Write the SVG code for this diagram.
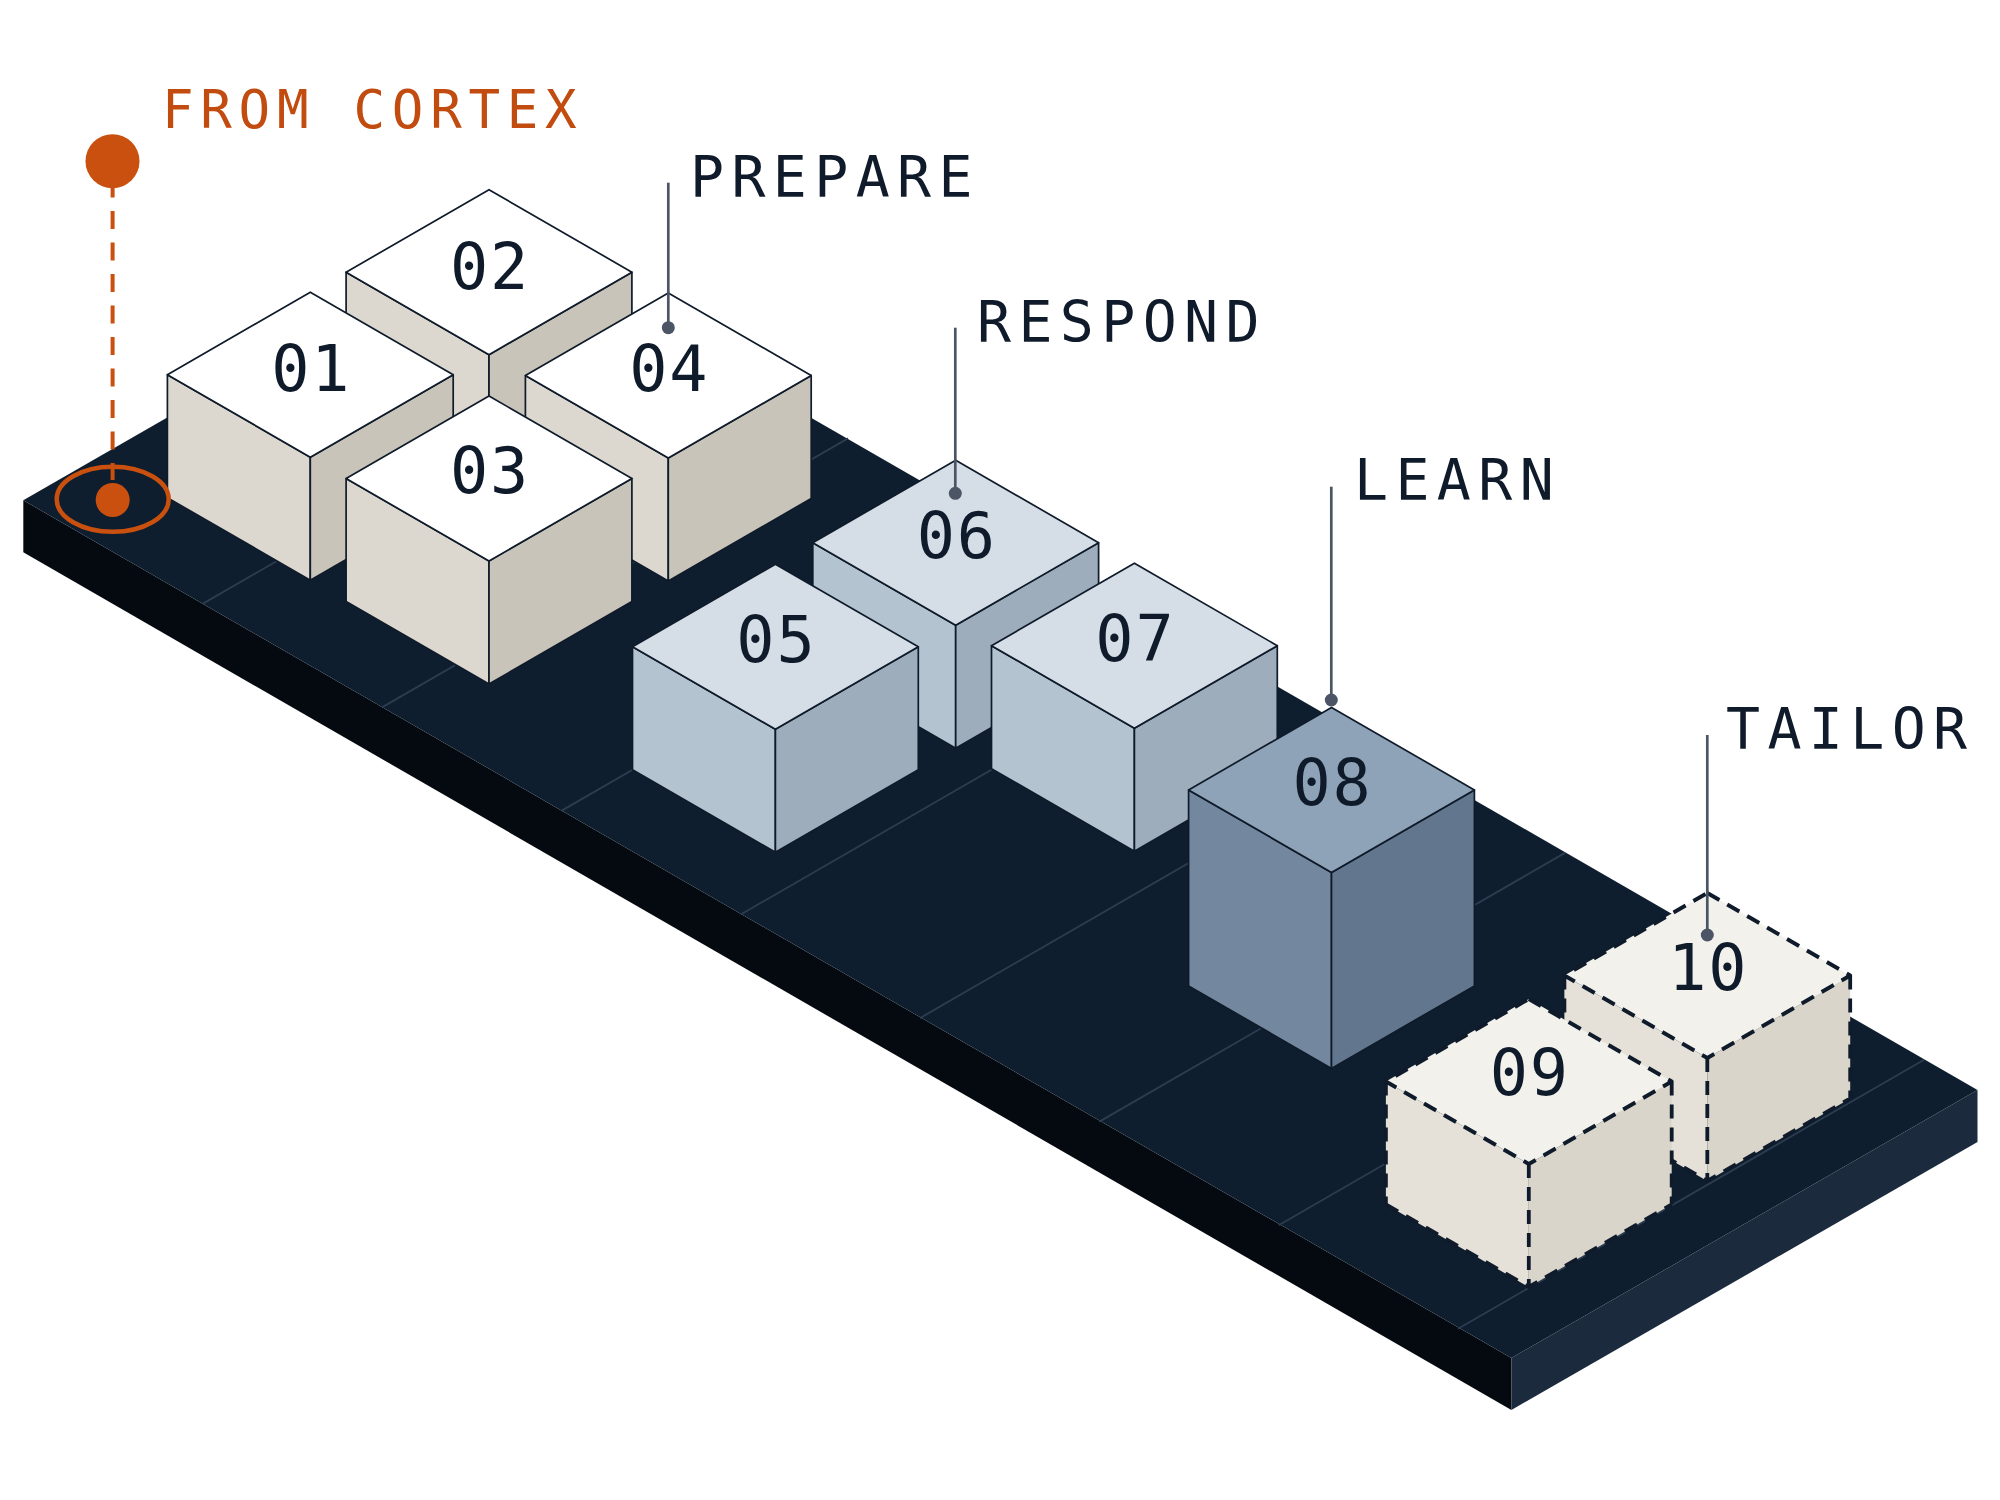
<svg xmlns="http://www.w3.org/2000/svg" width="2000" height="1500" viewBox="0 0 2000 1500">
  <style>
    .bg { fill: #ffffff; }
    .slab-top { fill: #0f1e2e; }
    .slab-front { fill: #050a10; }
    .slab-end { fill: #1b2a3c; }
    .grid { stroke: #2c3d52; stroke-width: 1.8; fill: none; }
    .edge { stroke: #0f1b2a; stroke-width: 1.7; stroke-linejoin: round; }
    .g1 .top { fill: #ffffff; } .g1 .left { fill: #dcd8cf; } .g1 .right { fill: #c8c4b9; }
    .g2 .top { fill: #d5dee7; } .g2 .left { fill: #b4c3d0; } .g2 .right { fill: #9dadbc; }
    .g3 .top { fill: #8ea3b7; } .g3 .left { fill: #73889f; } .g3 .right { fill: #62778e; }
    .g4 .top { fill: #f2f1ec; } .g4 .left { fill: #e5e1d8; } .g4 .right { fill: #d9d5ca; }
    .dash { fill: none; stroke: #0f1b2a; stroke-width: 3.8; stroke-dasharray: 14 9; stroke-linejoin: round; }
    .num { font-family: "DejaVu Sans Mono", "Liberation Mono", monospace; font-size: 63.5px; fill: #0f1b2a; text-anchor: middle; letter-spacing: 1.8px; }
    .callout { font-family: "DejaVu Sans Mono", "Liberation Mono", monospace; font-size: 56.5px; fill: #0f1b2a; letter-spacing: 7.4px; }
    .source { font-family: "DejaVu Sans Mono", "Liberation Mono", monospace; font-size: 52.5px; fill: #c24b0f; letter-spacing: 6.7px; }
    .lead { stroke: #4b5565; stroke-width: 2.7; fill: none; }
    .lead-dot { fill: #4b5565; }
    .orange { fill: #c9500e; }
    .orange-line { stroke: #c9500e; stroke-width: 4; fill: none; }
  </style>
  <rect class="bg" x="0" y="0" width="2000" height="1500"/>

  <g id="platform">
    <polygon class="slab-front" points="23.3,500.3 1511.4,1358 1511.4,1410 23.3,552.3"/>
    <polygon class="slab-end" points="1511.4,1358 1977.5,1090 1977.5,1142 1511.4,1410"/>
    <polygon class="slab-top" points="23.3,500.3 489.4,232.3 1977.5,1090 1511.4,1358"/>
    <g id="grid">
      <line class="grid" x1="202.6" y1="603.9" x2="668.6" y2="334.9"/>
      <line class="grid" x1="382.0" y1="707.4" x2="848.0" y2="438.4"/>
      <line class="grid" x1="561.3" y1="810.9" x2="1027.3" y2="541.9"/>
      <line class="grid" x1="740.7" y1="914.5" x2="1206.7" y2="645.5"/>
      <line class="grid" x1="920.0" y1="1018.1" x2="1386.0" y2="749.1"/>
      <line class="grid" x1="1099.4" y1="1121.6" x2="1565.4" y2="852.6"/>
      <line class="grid" x1="1278.7" y1="1225.2" x2="1744.7" y2="956.2"/>
      <line class="grid" x1="1458.1" y1="1328.7" x2="1924.1" y2="1059.7"/>
    </g>
  </g>

  <g id="node-02" class="g1" transform="translate(489,189.7)">
    <polygon class="left edge" points="-142.9,82.5 0,165 0,288 -142.9,205.5"/>
    <polygon class="right edge" points="0,165 142.9,82.5 142.9,205.5 0,288"/>
    <polygon class="top edge" points="0,0 142.9,82.5 0,165 -142.9,82.5"/>
    <text class="num" x="1" y="99">02</text>
  </g>
  <g id="node-01" class="g1" transform="translate(310.3,292.2)">
    <polygon class="left edge" points="-142.9,82.5 0,165 0,288 -142.9,205.5"/>
    <polygon class="right edge" points="0,165 142.9,82.5 142.9,205.5 0,288"/>
    <polygon class="top edge" points="0,0 142.9,82.5 0,165 -142.9,82.5"/>
    <text class="num" x="1" y="99">01</text>
  </g>
  <g id="node-04" class="g1" transform="translate(668.3,293)">
    <polygon class="left edge" points="-142.9,82.5 0,165 0,288 -142.9,205.5"/>
    <polygon class="right edge" points="0,165 142.9,82.5 142.9,205.5 0,288"/>
    <polygon class="top edge" points="0,0 142.9,82.5 0,165 -142.9,82.5"/>
    <text class="num" x="1" y="98">04</text>
  </g>
  <g id="node-03" class="g1" transform="translate(489,396)">
    <polygon class="left edge" points="-142.9,82.5 0,165 0,288 -142.9,205.5"/>
    <polygon class="right edge" points="0,165 142.9,82.5 142.9,205.5 0,288"/>
    <polygon class="top edge" points="0,0 142.9,82.5 0,165 -142.9,82.5"/>
    <text class="num" x="1" y="97">03</text>
  </g>

  <g id="node-06" class="g2" transform="translate(955.7,460.2)">
    <polygon class="left edge" points="-142.9,82.5 0,165 0,288 -142.9,205.5"/>
    <polygon class="right edge" points="0,165 142.9,82.5 142.9,205.5 0,288"/>
    <polygon class="top edge" points="0,0 142.9,82.5 0,165 -142.9,82.5"/>
    <text class="num" x="1" y="98">06</text>
  </g>
  <g id="node-05" class="g2" transform="translate(775.4,564.3)">
    <polygon class="left edge" points="-142.9,82.5 0,165 0,288 -142.9,205.5"/>
    <polygon class="right edge" points="0,165 142.9,82.5 142.9,205.5 0,288"/>
    <polygon class="top edge" points="0,0 142.9,82.5 0,165 -142.9,82.5"/>
    <text class="num" x="1" y="98">05</text>
  </g>
  <g id="node-07" class="g2" transform="translate(1134.4,563.2)">
    <polygon class="left edge" points="-142.9,82.5 0,165 0,288 -142.9,205.5"/>
    <polygon class="right edge" points="0,165 142.9,82.5 142.9,205.5 0,288"/>
    <polygon class="top edge" points="0,0 142.9,82.5 0,165 -142.9,82.5"/>
    <text class="num" x="1" y="98">07</text>
  </g>

  <g id="node-08" class="g3" transform="translate(1331.5,707.4)">
    <polygon class="left edge" points="-142.9,82.5 0,165 0,361 -142.9,278.5"/>
    <polygon class="right edge" points="0,165 142.9,82.5 142.9,278.5 0,361"/>
    <polygon class="top edge" points="0,0 142.9,82.5 0,165 -142.9,82.5"/>
    <text class="num" x="1" y="98">08</text>
  </g>

  <g id="node-10" class="g4" transform="translate(1707.3,893)">
    <polygon class="left" points="-142.9,82.5 0,165 0,288 -142.9,205.5"/>
    <polygon class="right" points="0,165 142.9,82.5 142.9,205.5 0,288"/>
    <polygon class="top" points="0,0 142.9,82.5 0,165 -142.9,82.5"/>
    <path class="dash" d="M0,0 L142.9,82.5 L0,165 L-142.9,82.5 Z M-142.9,82.5 V205.5 M0,165 V288 M142.9,82.5 V205.5 M-142.9,205.5 L0,288 L142.9,205.5"/>
    <text class="num" x="1" y="97">10</text>
  </g>
  <g id="node-09" class="g4" transform="translate(1528.8,999)">
    <polygon class="left" points="-142.9,82.5 0,165 0,288 -142.9,205.5"/>
    <polygon class="right" points="0,165 142.9,82.5 142.9,205.5 0,288"/>
    <polygon class="top" points="0,0 142.9,82.5 0,165 -142.9,82.5"/>
    <path class="dash" d="M0,0 L142.9,82.5 L0,165 L-142.9,82.5 Z M-142.9,82.5 V205.5 M0,165 V288 M142.9,82.5 V205.5 M-142.9,205.5 L0,288 L142.9,205.5"/>
    <text class="num" x="1" y="96">09</text>
  </g>

  <g id="source">
    <ellipse cx="112.7" cy="499.3" rx="56" ry="32.5" fill="none" stroke="#c9500e" stroke-width="4.5"/>
    <circle class="orange" cx="112.7" cy="500" r="17"/>
    <circle class="orange" cx="112.5" cy="161.2" r="27"/>
    <text class="source" x="162" y="128.3">FROM CORTEX</text>
  </g>

  <g id="connectors">
    <line class="orange-line" x1="112.6" y1="179.5" x2="112.6" y2="480" stroke-dasharray="18 13.5"/>
    <line class="lead" x1="668.3" y1="182.7" x2="668.3" y2="327.7"/>
    <circle class="lead-dot" cx="668.3" cy="327.7" r="6.5"/>
    <line class="lead" x1="955.3" y1="327.7" x2="955.3" y2="493.3"/>
    <circle class="lead-dot" cx="955.3" cy="493.3" r="6.5"/>
    <line class="lead" x1="1331.3" y1="486.7" x2="1331.3" y2="700"/>
    <circle class="lead-dot" cx="1331.3" cy="700" r="6.5"/>
    <line class="lead" x1="1707.3" y1="735" x2="1707.3" y2="935"/>
    <circle class="lead-dot" cx="1707.3" cy="935" r="6.5"/>
  </g>

  <g id="labels">
    <text class="callout" x="690" y="197">PREPARE</text>
    <text class="callout" x="977" y="342">RESPOND</text>
    <text class="callout" x="1354" y="500">LEARN</text>
    <text class="callout" x="1726" y="749">TAILOR</text>
  </g>
</svg>
